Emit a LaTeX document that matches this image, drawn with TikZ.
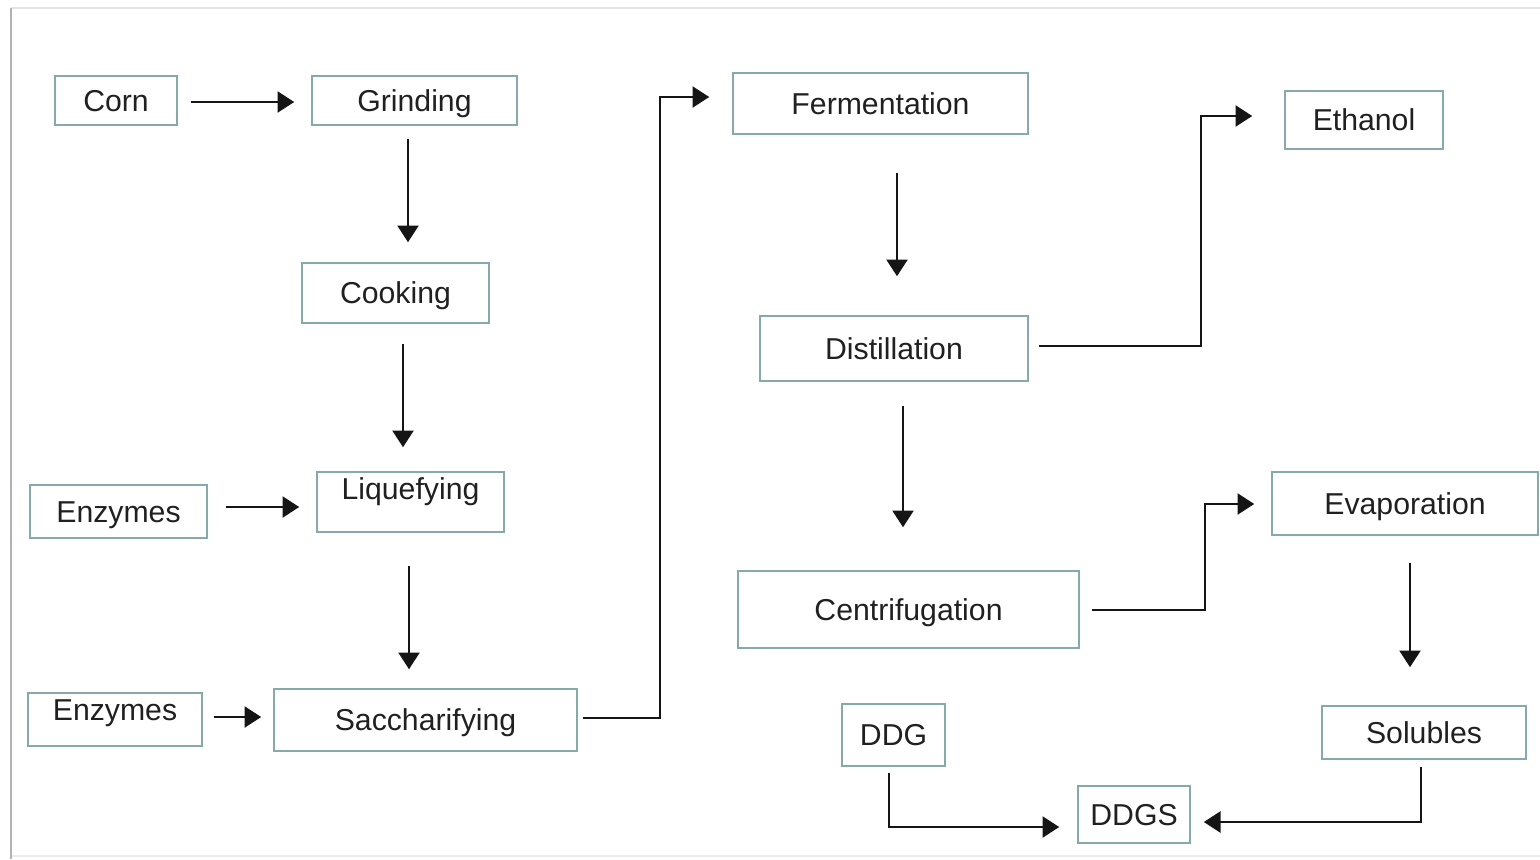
\documentclass[tikz,border=0pt]{standalone}
\usepackage{fontspec}
\setmainfont{Liberation Sans}
\usetikzlibrary{arrows.meta}
\newcommand\px[1]{#1*0.02cm}
\definecolor{boxc}{HTML}{86A9A9}
\definecolor{txtc}{HTML}{202020}
\definecolor{arrc}{HTML}{151515}
\tikzset{
  bx/.style 2 args={draw=boxc, line width=0.9pt, rectangle, inner sep=0pt,
    minimum width=#1*0.02cm, minimum height=#2*0.02cm,
    text=txtc, font=\fontsize{17.2}{20}\selectfont, text height=12.3pt, text depth=0pt},
  raised/.style={text depth=#1*0.02cm},
  arr/.style={draw=arrc, line width=1.2pt, -{Triangle[length=9.5pt,width=12pt]}},
}
\begin{document}
\begin{tikzpicture}[x=0.02cm, y=-0.02cm]
\useasboundingbox (0,0) rectangle (1540,859);
% frame
\draw[color=black!10, line width=1.2pt] (11,8) -- (1540,8);
\draw[color=black!8, line width=1pt] (11,856) -- (1540,856);
\draw[color=black!30, line width=1.6pt] (11,8) -- (11,859);

% nodes
\node[bx={122}{49}] (corn) at (116,100.5) {Corn};
\node[bx={205}{49}] (grind) at (414.5,100.5) {Grinding};
\node[bx={187}{60}] (cook) at (395.5,293) {Cooking};
\node[bx={177}{53}] (enz1) at (118.5,511.5) {Enzymes};
\node[bx={187}{60}, raised=26] (liq) at (410.5,502) {Liquefying};
\node[bx={174}{53}, raised=19] (enz2) at (115,719.5) {Enzymes};
\node[bx={303}{62}] (sacch) at (425.5,720) {Saccharifying};
\node[bx={295}{61}] (ferm) at (880.5,103.5) {Fermentation};
\node[bx={268}{65}] (dist) at (894,348.5) {Distillation};
\node[bx={341}{77}] (cent) at (908.5,609.5) {Centrifugation};
\node[bx={103}{62}] (ddg) at (893.5,735) {DDG};
\node[bx={112}{57}] (ddgs) at (1134,814.5) {DDGS};
\node[bx={158}{58}] (eth) at (1364,120) {Ethanol};
\node[bx={266}{63}] (evap) at (1405,503.5) {Evaporation};
\node[bx={204}{53}] (sol) at (1424,732.5) {Solubles};

% connectors
\draw[arr, shorten <=\px{13}, shorten >=\px{17}] (corn.east |- 0,102) -- (grind.west |- 0,102);
\draw[arr, shorten <=\px{13}, shorten >=\px{20}] (grind.south -| 408,0) -- (cook.north -| 408,0);
\draw[arr, shorten <=\px{20}, shorten >=\px{24}] (cook.south -| 403,0) -- (liq.north -| 403,0);
\draw[arr, shorten <=\px{18}, shorten >=\px{17}] (enz1.east |- 0,507) -- (liq.west |- 0,507);
\draw[arr, shorten <=\px{33}, shorten >=\px{19}] (liq.south -| 409,0) -- (sacch.north -| 409,0);
\draw[arr, shorten <=\px{11}, shorten >=\px{12}] (enz2.east |- 0,717) -- (sacch.west |- 0,717);
\draw[arr, shorten <=\px{5}, shorten >=\px{23}] (sacch.east |- 0,718) -| (660,97) -- (ferm.west |- 0,97);
\draw[arr, shorten <=\px{38}, shorten >=\px{39}] (ferm.south -| 897,0) -- (dist.north -| 897,0);
\draw[arr, shorten <=\px{10}, shorten >=\px{32}] (dist.east |- 0,346) -| (1201,116) -- (eth.west |- 0,116);
\draw[arr, shorten <=\px{24}, shorten >=\px{43}] (dist.south -| 903,0) -- (cent.north -| 903,0);
\draw[arr, shorten <=\px{12}, shorten >=\px{17}] (cent.east |- 0,610) -| (1205,504) -- (evap.west |- 0,504);
\draw[arr, shorten <=\px{27}, shorten >=\px{38}] (evap.south -| 1410,0) -- (sol.north -| 1410,0);
\draw[arr, shorten <=\px{6}, shorten >=\px{18}] (ddg.south -| 889,0) |- (ddgs.west |- 0,827);
\draw[arr, shorten <=\px{7}, shorten >=\px{13}] (sol.south -| 1421,0) |- (ddgs.east |- 0,822);
\end{tikzpicture}
\end{document}
